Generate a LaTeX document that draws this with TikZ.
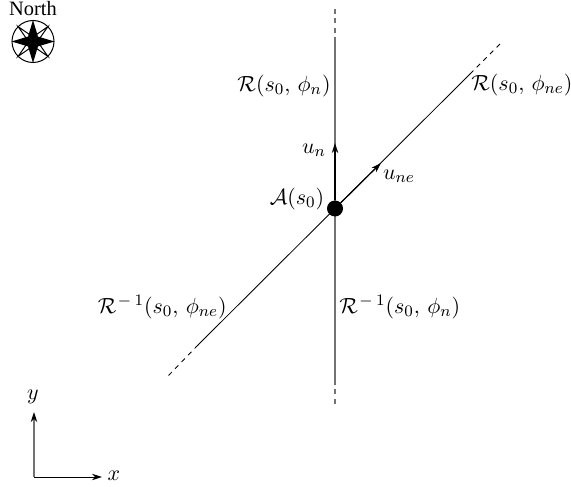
\documentclass[tikz,border=0pt]{standalone}
\usepackage{fontspec}
\newfontfamily\northfont{Liberation Serif}
\usepackage{amsmath}
\usetikzlibrary{arrows.meta,positioning,calc}
\tikzset{
  ray/.style    ={line width=0.42pt, draw=black},
  raygray/.style={line width=0.6pt, draw=black!55},
  ext/.style    ={line width=0.42pt, dash pattern=on 2.4pt off 2.3pt, draw=black},
  extgray/.style={line width=0.6pt, dash pattern=on 2.4pt off 2.3pt, draw=black!55},
  vec/.style    ={-{Stealth[length=5pt,width=3.2pt,black]}, line width=0.45pt, draw=black},
  lbl/.style    ={font=\fontsize{11}{13}\selectfont, inner sep=0pt},
  dot/.style    ={circle, fill=black, inner sep=0pt, minimum size=8pt}
}
\begin{document}
\begin{tikzpicture}[x=0.5pt, y=-0.5pt]
\useasboundingbox (0,0) rectangle (571,486);
\coordinate (center) at (335,208.5);

% north-south line
\coordinate (ntop) at (335,8);
\coordinate (nmid) at (335,42);
\coordinate (smid) at (335,380);
\coordinate (sbot) at (335,408);
\draw[extgray] (nmid) -- (ntop);
\draw[raygray] (nmid) -- (smid);
\draw[extgray] (smid) -- (sbot);

% diagonal line
\coordinate (netop) at (502,42);
\coordinate (nemid) at (470,74);
\coordinate (swmid) at (198,345);
\coordinate (swbot) at (167,377);
\draw[ext] (nemid) -- (netop);
\draw[ray] (nemid) -- (swmid);
\draw[ext] (swmid) -- (swbot);

% unit vectors
\node[dot] (a) at (center) {};
\coordinate (un) at (335,143);
\coordinate (une) at (381,163);
\draw[vec, line width=0.8pt] (a) -- (un);
\draw[vec, line width=0.6pt] (a) -- (une);

% labels
\node[lbl] (rn) at (284,86) {$\mathcal{R}(s_0,\,\phi_n)$};
\node[lbl, anchor=west] (rne) at (471,85) {$\mathcal{R}(s_0,\,\phi_{ne})$};
\node[lbl, anchor=west] (rin) at (339,307) {$\mathcal{R}^{\kern0.7pt-\kern1.8pt1}(s_0,\,\phi_n)$};
\node[lbl, anchor=east] (rine) at (227,307) {$\mathcal{R}^{\kern0.7pt-\kern1.8pt1}(s_0,\,\phi_{ne})$};
\node[lbl] (ln) at (314,150) {$u_n$};
\node[lbl] (lne) at (399,176) {$u_{ne}$};
\node[lbl] (la) at (297,199) {$\mathcal{A}(s_0)$};

% compass
\node[font=\northfont\fontsize{10.2}{12}\selectfont, inner sep=0pt] (north) at (33,9) {North};
\coordinate (c) at (33,41.5);
\draw[line width=0.5pt] (c) circle (21);
\foreach \a in {45,135,225,315}
  \draw[line width=0.5pt, fill=white] (c) -- ($(c)+(\a-22:7)$) -- ($(c)+(\a:21)$) -- ($(c)+(\a+22:7)$) -- cycle;
\foreach \a in {0,90,180,270}
  \fill (c) -- ($(c)+(\a-45:7)$) -- ($(c)+(\a:21.5)$) -- ($(c)+(\a+45:7)$) -- cycle;

% axes
\coordinate (o) at (34,477);
\coordinate (oy) at (34,412);
\coordinate (ox) at (102,477);
\draw[vec, draw=black!55, line width=0.6pt] (o) -- (oy);
\draw[vec] (o) -- (ox);
\node[lbl] (ly) at (33,397) {$y$};
\node[lbl] (lx) at (114,476) {$x$};
\end{tikzpicture}
\end{document}
